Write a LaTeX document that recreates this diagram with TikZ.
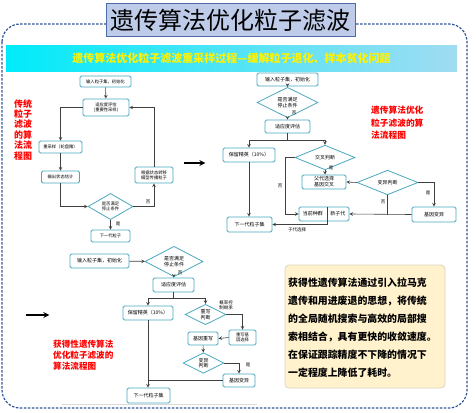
\documentclass[tikz,border=0pt]{standalone}
\usepackage{fontspec}
\setmainfont{Noto Sans CJK SC}
\usepackage{tikz}
\usetikzlibrary{shapes.geometric, positioning}

\definecolor{frameblue}{RGB}{47,85,151}
\definecolor{titlefill}{RGB}{190,204,234}
\definecolor{titleedge}{RGB}{76,108,168}
\definecolor{flowedge}{RGB}{72,168,190}
\definecolor{flowline}{RGB}{64,64,64}
\definecolor{notefill}{RGB}{255,242,204}
\definecolor{noteedge}{RGB}{220,212,190}

\begin{document}
\begin{tikzpicture}[x=1pt, y=-1pt, >=stealth,
    fbox/.style={draw=flowedge, fill=white, rounded corners=1.5pt, line width=0.8pt, align=center, inner sep=0pt, font=\fontsize{5}{5.8}\selectfont},
    fdia/.style={diamond, draw=flowedge, fill=white, line width=0.8pt, align=center, inner sep=0pt, font=\fontsize{5}{5.8}\selectfont},
    small/.style={font=\fontsize{4.3}{5}\selectfont},
    flow/.style={draw=flowline, line width=0.6pt},
    yn/.style={font=\fontsize{4.5}{5}\selectfont, inner sep=0pt},
    redtxt/.style={text=red, align=left, anchor=north west, inner sep=0pt},
    bigarrow/.style={->, line width=1.6pt, black}
  ]
  \useasboundingbox (0,0) rectangle (476,412);

  % frame, title and banner
  \draw[frameblue, line width=1.2pt, dash pattern=on 2.5pt off 1.5pt, rounded corners=18pt] (2,24) rectangle (467,408);
  \node[draw=titleedge, fill=titlefill, line width=1pt, minimum width=249pt, minimum height=33pt, font=\fontsize{24}{26}\selectfont] (title) at (230.5,20.5) {遗传算法优化粒子滤波};
  \node[minimum width=451pt, minimum height=25pt, left color={rgb,255:red,0;green,235;blue,250}, right color={rgb,255:red,160;green,220;blue,242}, text=yellow, font=\fontsize{11}{12}\selectfont\bfseries] (banner) at (231.5,58.5) {遗传算法优化粒子滤波重采样过程—缓解粒子退化、样本贫化问题};

  % traditional particle filter
  \node[fbox, small, minimum width=51pt, minimum height=11pt] (l1) at (105.5,81.5) {输入粒子集，初始化};
  \node[fbox, small, minimum width=46pt, minimum height=17pt] (l2) at (106,107.5) {适应度评估\\(重要性采样)};
  \node[fbox, small, minimum width=43pt, minimum height=12pt] (l3) at (60.5,147) {重采样（轮盘赌）};
  \node[fbox, small, minimum width=38pt, minimum height=12pt] (l4) at (60.5,177) {输出状态估计};
  \node[fdia, small, minimum width=45pt, minimum height=21pt] (l5) at (110.5,206.5) {是否满足\\停止条件};
  \node[fbox, small, minimum width=39pt, minimum height=12pt] (l6) at (110.5,236) {下一代粒子};
  \node[fbox, small, minimum width=38pt, minimum height=16pt] (l7) at (154,175) {根据状态转移\\模型传播粒子};

  \draw[flow, ->] (l1) -- (l2);
  \draw[flow, ->] (l2.west) -| (l3.north);
  \draw[flow, ->] (l3) -- (l4);
  \draw[flow, ->] (l4.south) |- (l5.west);
  \draw[flow, ->] (l5.east) -| (l7.south);
  \draw[flow, ->] (l7.north) |- (l2.east);
  \draw[flow, ->] (l5) -- (l6);
  \node[yn] (l5no) at (148,202) {否};
  \node[yn] (l5yes) at (118,224) {是};
  \node[redtxt, font=\fontsize{9}{10.4}\selectfont\bfseries] (lnote) at (14,99) {传统\\粒子\\滤波\\的算\\法流\\程图};

  \node[inner sep=0pt] (arrA) at (183,163) {};
  \node[inner sep=0pt] (arrB) at (206,163) {};
  \draw[bigarrow] (arrA) -- (arrB);

  % genetic particle filter
  \node[fbox, minimum width=61pt, minimum height=13pt] (r1) at (287.5,79.5) {输入粒子集，初始化};
  \node[fdia, minimum width=61pt, minimum height=15pt] (r2) at (287.5,102.5) {是否满足\\停止条件};
  \node[fbox, minimum width=45pt, minimum height=13pt] (r3) at (287.5,126.5) {适应度评估};
  \node[fbox, minimum width=52pt, minimum height=14pt] (r4) at (249,155) {保留精英（10\%）};
  \node[fdia, minimum width=60pt, minimum height=15pt] (r5) at (325,157.5) {交叉判断};
  \node[fbox, minimum width=44pt, minimum height=14pt] (r6) at (324,182) {父代选择\\基因交叉};
  \node[fdia, minimum width=61pt, minimum height=15pt] (r7) at (387.5,182.5) {变异判断};
  \node[fbox, minimum width=44pt, minimum height=15pt] (r8) at (434,214.5) {基因变异};
  \node[fbox, minimum width=50pt, minimum height=14pt] (r9) at (324,214) {当前种群\hspace{7.5pt}新子代};
  \node[fbox, minimum width=45pt, minimum height=15pt] (r10) at (249.5,224.5) {下一代粒子集};
  \coordinate (r9cut) at (327,207);

  \draw[flow, ->] (r1) -- (r2);
  \draw[flow, ->] (r2) -- (r3);
  \draw[flow, ->] (r3.south) -- ++(0,7) -| (r4.north);
  \draw[flow, ->] (r3.south) -- ++(0,7) -| (r5.north);
  \draw[flow, ->] (r5.south) -- (r5.south |- r6.north);
  \draw[flow, ->] (r5.west) -- ++(-9,0) |- (r9.west);
  \draw[flow, ->] (r7.west) -- (r6.east);
  \draw[flow, ->] (r7.east) -| (r8.north);
  \draw[flow, ->] (r8.west) -- (r9.east);
  \draw[flow] (r7.south) -- (r7.south |- r8.west);
  \draw[flow, ->] (r4.south) -- (r4.south |- r10.north);
  \draw[flow, ->] (r9cut) |- (r10.east);
  \node[yn] (r2no) at (294,113) {否};
  \node[yn] (r5yes) at (331,168) {是};
  \node[yn] (r5no) at (280,186) {否};
  \node[yn] (r7no) at (383,202) {否};
  \node[yn] (r7yes) at (428,193) {是};
  \node[yn] (r9sel) at (297,230) {子代选择};
  \node[redtxt, font=\fontsize{8.7}{12.5}\selectfont\bfseries] (rnote) at (371,106) {遗传算法优化\\粒子滤波的算\\法流程图};

  \node[inner sep=0pt] (arrC) at (25,315) {};
  \node[inner sep=0pt] (arrD) at (50,315) {};
  \draw[bigarrow] (arrC) -- (arrD);

  % acquired genetic particle filter
  \node[fbox, minimum width=59pt, minimum height=14pt] (b1) at (99.5,261) {输入粒子集，初始化};
  \node[fdia, minimum width=58pt, minimum height=17pt] (b2) at (174,261.5) {是否满足\\停止条件};
  \node[fbox, minimum width=41pt, minimum height=14pt] (b3) at (173.5,285) {适应度评估};
  \node[fbox, minimum width=50pt, minimum height=14pt] (b4) at (148,313) {保留精英（10\%）};
  \node[fdia, minimum width=41pt, minimum height=15pt] (b5) at (205.5,314.5) {重写\\判断};
  \node[fbox, small, minimum width=27pt, minimum height=15pt] (b6) at (242.5,337.5) {重写基\\因选择};
  \node[fbox, minimum width=30pt, minimum height=13pt] (b7) at (203,338.5) {基因重写};
  \node[fdia, minimum width=41pt, minimum height=16pt] (b8) at (203.5,363) {变异\\判断};
  \node[fbox, minimum width=32pt, minimum height=13pt] (b9) at (239,380.5) {基因变异};
  \node[fbox, minimum width=43pt, minimum height=15pt] (b10) at (148.5,395.5) {下一代粒子集};

  \draw[flow, ->] (b1) -- (b2);
  \draw[flow, ->] (b2) -- (b3);
  \draw[flow, ->] (b3.south) -- ++(0,6) -| (b4.north);
  \draw[flow, ->] (b3.south) -- ++(0,6) -| (b5.north);
  \draw[flow, ->] (b5.east) -| (b6.north);
  \draw[flow, ->] (b6.west) -- (b7.east);
  \draw[flow, ->] (b7) -- (b8);
  \draw[flow, ->] (b8.east) -| (b9.north);
  \draw[flow] (b9.west) -- (b9.west -| b4.south);
  \draw[flow, ->] (b4.south) -- (b4.south |- b10.north);
  \node[yn] (b2no) at (180,273) {否};
  \node[yn, align=center] (b5prob) at (226,305) {概率控\\制继承};
  \node[yn] (b8yes) at (248,365) {是};
  \node[redtxt, font=\fontsize{8.6}{10.7}\selectfont\bfseries] (bnote) at (53,340) {获得性遗传算法\\优化粒子滤波的\\算法流程图};
  \draw[black!15, line width=0.5pt] (62,404) -- (257,404);

  % summary note
  \draw[draw=noteedge, fill=notefill, rounded corners=4pt, line width=0.8pt] (285,265) rectangle (445,388);
  \node[anchor=west, inner sep=0pt, text width=150pt, align=left, font=\fontsize{9.9}{18}\selectfont\bfseries] (note) at (288,328) {获得性遗传算法通过引入拉马克\\遗传和用进废退的思想，将传统\\的全局随机搜索与高效的局部搜\\索相结合，具有更快的收敛速度。\\在保证跟踪精度不下降的情况下\\一定程度上降低了耗时。};
\end{tikzpicture}
\end{document}
